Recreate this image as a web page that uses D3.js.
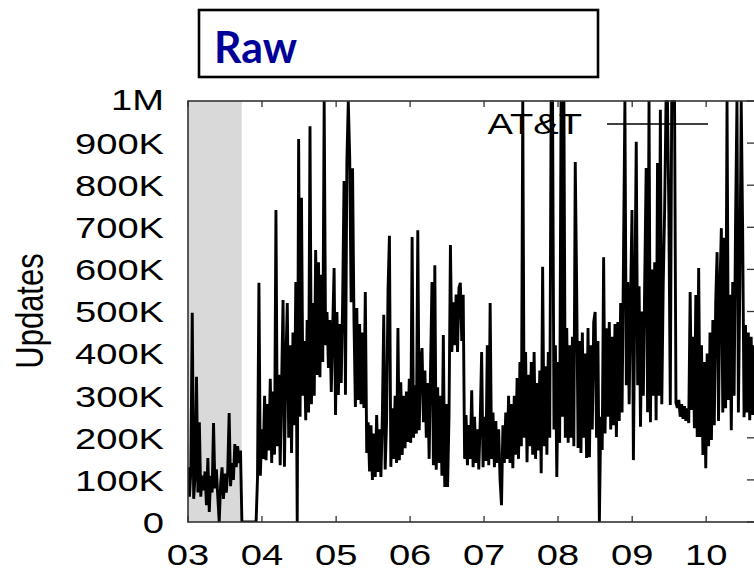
<!DOCTYPE html>
<html>
<head>
<meta charset="utf-8">
<script src="https://cdn.jsdelivr.net/npm/d3@7"></script>
<style>
  html, body { margin: 0; padding: 0; background: #fff; }
  svg { display: block; }
</style>
</head>
<body>
<svg id="chart" width="754" height="572"></svg>
<script>
// ---------- data (weekly samples, thousands of updates) ----------
const startDate = new Date(2003, 0, 1);
const updates2003 = [130,60,120,497,55,110,345,70,237,60, 110,75,120,40,152,24,110,70,235,80,
  125,60,0,90,130,55,115,70,120,259, 85,140,100,185,130,180,140,170,
  0,0,0,0,0,0,0,0,0,0,0, 105,568,110];
const updates2004 = [220,150,300,147,280,170,340,140,310,160, 741,180,350,135,330,527,131,380,520,200,
  420,164,450,230,570,0,910,250,770,300, 430,242,480,260,940,280,520,300,646,349,
  617,344,587,380,1000,420,499,366,480,309, 460,603];
const updates2005 = [254,499,302,470,330,520,810,302,855,1000, 865,522,840,480,273,508,290,470,280,450,
  271,546,164,237,120,230,100,210,107,254, 119,220,107,250,492,125,240,550,680,131,
  270,150,300,140,461,147,332,159,300,175, 310,190];
const updates2006 = [340,188,677,200,325,210,693,218,380,413, 237,360,200,330,150,366,570,135,610,124,
  320,140,300,110,444,83,280,83,250,658, 404,522,420,540,404,556,568,430,540,150,
  254,135,230,150,313,130,250,140,220,125, 240,404];
const updates2007 = [130,250,145,420,135,520,150,260,130,240, 140,220,100,40,230,140,260,150,300,140,
  280,128,300,160,342,150,380,180,1000,200, 404,142,350,180,380,160,404,150,330,170,
  360,116,606,180,370,160,404,200,1000,1000, 220,420];
const updates2008 = [107,380,188,1000,250,1000,200,461,188,420, 200,440,180,855,556,176,430,164,450,200,
  400,152,461,154,420,220,475,499,200,430, 0,250,171,629,210,460,250,475,220,440,
  230,470,202,475,240,520,260,627,1000,325, 570,280];
const updates2009 = [530,741,147,540,903,325,560,226,500,300, 580,841,261,1000,237,600,300,617,242,853,
  300,979,280,560,741,1000,1000,729,278,1000, 1000,1000,283,271,290,250,280,245,275,240,
  270,235,546,266,440,223,539,202,603,202, 420,159];
const updates2010 = [380,128,400,180,450,195,480,230,520,641, 240,560,698,260,675,270,1000,290,540,218,
  570,300,712,1000,260,560,1000,698,249,468, 260,450,242,440,254,420];

const yTickValues = [0,100,200,300,400,500,600,700,800,900,1000];
const yTickLabels = ["0","100K","200K","300K","400K","500K","600K","700K","800K","900K","1M"];
const xTickYears = [2003,2004,2005,2006,2007,2008,2009,2010];
const shadeStart = new Date(2003, 0, 1);
const shadeEnd = new Date(2003, 8, 23);
const seriesName = "AT&T";
const titleText = "Raw";
const yTitle = "Updates";

// ---------- build series ----------
const allValues = [].concat(updates2003, updates2004, updates2005, updates2006,
  updates2007, updates2008, updates2009, updates2010);
const series = allValues.map((v, i) => ({ date: d3.timeDay.offset(startDate, i * 7), value: v }));

// ---------- layout ----------
const L = 188, R = 755, T = 101, B = 522;
const SX = 1.27; // horizontal stretch of text seen in the picture
const svg = d3.select("#chart");

const x = d3.scaleTime().domain([new Date(2003, 0, 1), new Date(2010, 7, 30)]).range([L, R]);
const y = d3.scaleLinear().domain([0, 1000]).range([B, T]);

svg.append("defs").append("clipPath").attr("id", "plotclip")
  .append("rect").attr("x", L).attr("y", T - 1).attr("width", R - L).attr("height", B - T + 1);

// shaded period
svg.append("rect")
  .attr("x", x(shadeStart)).attr("y", T)
  .attr("width", x(shadeEnd) - x(shadeStart)).attr("height", B - T)
  .attr("fill", "#d9d9d9");

// ticks (gnuplot style: inward on all sides)
const tickColor = "#333";
const xTicks = xTickYears.map(yr => new Date(yr, 0, 1));
const tg = svg.append("g").attr("stroke", tickColor).attr("stroke-width", 1.3);
xTicks.forEach(d => {
  tg.append("line").attr("x1", x(d)).attr("x2", x(d)).attr("y1", B).attr("y2", B - 6);
  tg.append("line").attr("x1", x(d)).attr("x2", x(d)).attr("y1", T).attr("y2", T + 6);
});
yTickValues.forEach(v => {
  tg.append("line").attr("x1", R).attr("x2", R - 8).attr("y1", y(v)).attr("y2", y(v));
});

// data line
const line = d3.line().x(d => x(d.date)).y(d => y(d.value)).curve(d3.curveLinear);
svg.append("path")
  .datum(series)
  .attr("clip-path", "url(#plotclip)")
  .attr("fill", "none")
  .attr("stroke", "#000")
  .attr("stroke-width", 2.9)
  .attr("stroke-linejoin", "bevel")
  .attr("d", line);

// frame
svg.append("rect")
  .attr("x", L).attr("y", T).attr("width", R - L).attr("height", B - T)
  .attr("fill", "none").attr("stroke", tickColor).attr("stroke-width", 1.6);

// y tick labels
const font = "'Liberation Sans', Arial, Helvetica, sans-serif";
const yl = svg.append("g").attr("font-family", font).attr("font-size", 30).attr("fill", "#000");
yTickValues.forEach((v, i) => {
  yl.append("text")
    .attr("transform", `translate(164,${y(v) - (v === 1000 ? 2 : 0)}) scale(${SX},1)`)
    .attr("text-anchor", "end")
    .attr("dy", "0.36em")
    .text(yTickLabels[i]);
});

// x tick labels
const xl = svg.append("g").attr("font-family", font).attr("font-size", 30).attr("fill", "#000");
xTicks.forEach(d => {
  xl.append("text")
    .attr("transform", `translate(${x(d)},565) scale(${SX},1)`)
    .attr("text-anchor", "middle")
    .text(d3.timeFormat("%y")(d));
});

// y axis title
svg.append("text")
  .attr("transform", `translate(43,311) scale(${SX},1) rotate(-90)`)
  .attr("text-anchor", "middle")
  .attr("font-family", font).attr("font-size", 31)
  .text(yTitle);

// legend
svg.append("text")
  .attr("transform", `translate(582,134) scale(${SX},1)`)
  .attr("text-anchor", "end")
  .attr("font-family", font).attr("font-size", 30)
  .text(seriesName);
svg.append("line")
  .attr("x1", 607).attr("x2", 708).attr("y1", 124).attr("y2", 124)
  .attr("stroke", "#000").attr("stroke-width", 1.5);

// title box
svg.append("rect")
  .attr("x", 199).attr("y", 10).attr("width", 399).attr("height", 67)
  .attr("fill", "#fff").attr("stroke", "#000").attr("stroke-width", 2.6);
svg.append("text")
  .attr("x", 214).attr("y", 63)
  .attr("font-family", "Lato, 'Open Sans', sans-serif")
  .attr("font-weight", "bold").attr("font-size", 43)
  .attr("fill", "#000099")
  .attr("textLength", 83).attr("lengthAdjust", "spacingAndGlyphs")
  .text(titleText);
</script>
</body>
</html>
